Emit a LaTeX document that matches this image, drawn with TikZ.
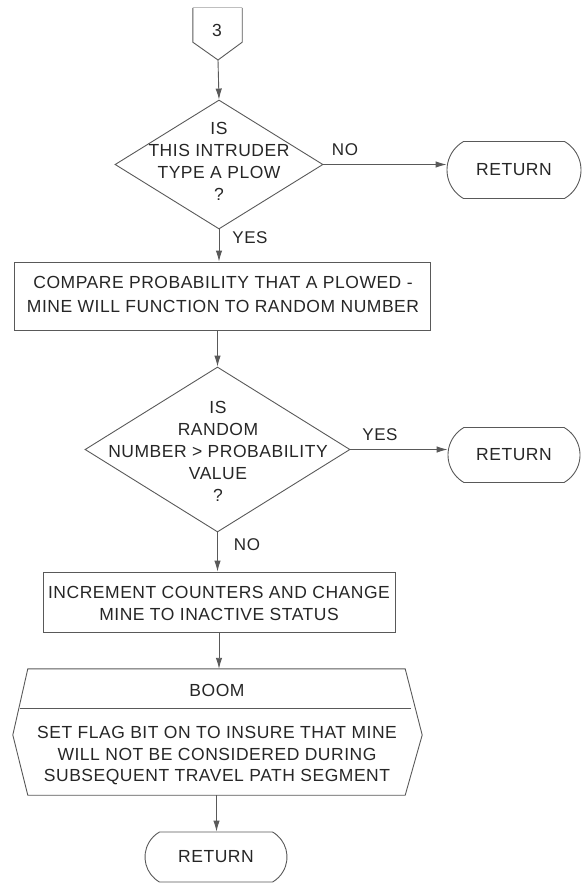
\documentclass[tikz,border=0pt]{standalone}
\usepackage{fontspec}
\setmainfont[LetterSpace=3]{Liberation Sans}
\usetikzlibrary{shapes.geometric,shapes.misc,arrows.meta,calc}
\begin{document}
\begin{tikzpicture}[x=1pt,y=-1pt,
  line/.style={draw=black!65,line width=0.9pt},
  flow/.style={line,-{Latex[length=11pt,width=6.5pt]}},
  txt/.style={font=\fontsize{17.5}{22}\selectfont,text=black!85,align=center,inner sep=0pt},
  lbl/.style={font=\fontsize{17}{20}\selectfont,text=black!85,inner sep=0pt},
  decision/.style={diamond,line,inner sep=0pt},
  procbox/.style={rectangle,line,inner sep=0pt},
  terminal/.style={rounded rectangle,rounded rectangle arc length=120,line,inner sep=0pt,
    font=\fontsize{17.5}{22}\selectfont,text=black!85},
  blank/.style={rectangle,inner sep=0pt}
]
\useasboundingbox (0,0) rectangle (582,883);

% off-page connector 3
\node[blank,minimum width=49pt,minimum height=34pt] (conn) at (217.5,25) {};
\node[txt] (connlabel) at (217,30) {3};
\coordinate (conntip) at (218,60);
\draw[line] (conn.north west) -- (conn.south west) -- (conntip) -- (conn.south east) -- (conn.north east);
\draw[draw=black!25,line width=0.9pt] (conn.north west) -- (conn.north east);

% first decision
\node[decision,minimum width=208pt,minimum height=129pt] (d1) at (219,164.5) {};
\node[txt] (d1text) at (219,161) {IS\\THIS INTRUDER\\TYPE A PLOW\\?};
\node[terminal,minimum width=134pt,minimum height=57pt] (r1) at (514,170) {RETURN};

% comparison step
\node[procbox,minimum width=416pt,minimum height=68pt] (b1) at (222,296) {};
\node[txt,font=\fontsize{17.5}{24}\selectfont] (b1text) at (223,294)
  {COMPARE PROBABILITY THAT A PLOWED -\\MINE WILL FUNCTION TO RANDOM NUMBER};

% second decision
\node[decision,minimum width=265pt,minimum height=165pt] (d2) at (217.5,449.5) {};
\node[txt] (d2text) at (218,451) {IS\\RANDOM\\NUMBER > PROBABILITY\\VALUE\\?};
\node[terminal,minimum width=132pt,minimum height=55pt] (r2) at (514,455) {RETURN};

% counter update step
\node[procbox,minimum width=352pt,minimum height=60pt] (b2) at (219,602) {};
\node[txt] (b2text) at (219,603) {INCREMENT COUNTERS AND CHANGE\\MINE TO INACTIVE STATUS};

% BOOM block
\node[blank,minimum width=377pt,minimum height=126pt] (boom) at (216.5,732) {};
\draw[line] (boom.north west) -- (boom.north east) -- ($(boom.east)+(17,3)$)
  -- (boom.south east) -- (boom.south west) -- ($(boom.west)+(-15,3)$) -- cycle;
\draw[line] ($(boom.north west)+(-8,40)$) -- ($(boom.north east)+(6,40)$);
\node[txt] (boomtitle) at (217,690) {BOOM};
\node[txt,font=\fontsize{17.5}{21.5}\selectfont] (boomtext) at (217,756)
  {SET FLAG BIT ON TO INSURE THAT MINE\\WILL NOT BE CONSIDERED DURING\\SUBSEQUENT TRAVEL PATH SEGMENT};

\node[terminal,minimum width=142pt,minimum height=50pt] (r3) at (216,857) {RETURN};

% connectors
\draw[flow] (conntip) -- (d1.north);
\draw[flow] (d1.east) -- (d1.east -| r1.west);
\draw[flow] (d1.south) -- (d1.south |- b1.north);
\draw[flow] (d2.north |- b1.south) -- (d2.north);
\draw[flow] (d2.east) -- (d2.east -| r2.west);
\draw[flow] (d2.south) -- (d2.south |- b2.north);
\draw[flow] (b2.south) -- (b2.south |- boom.north);
\draw[flow] (boom.south) -- (boom.south |- r3.north);

% branch labels
\node[lbl] (no1) at (345,150) {NO};
\node[lbl] (yes1) at (250,238) {YES};
\node[lbl] (yes2) at (380,435) {YES};
\node[lbl] (no2) at (247,545) {NO};
\end{tikzpicture}
\end{document}
